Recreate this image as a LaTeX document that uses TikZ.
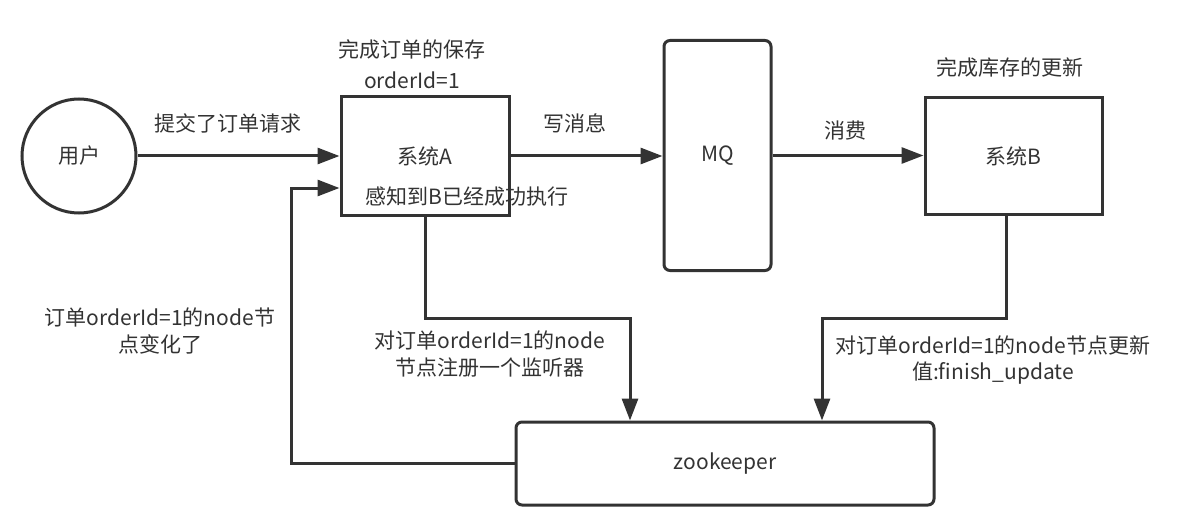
\documentclass[tikz,border=0pt]{standalone}
\usepackage{fontspec}
\setmainfont{Noto Sans CJK SC}
\usetikzlibrary{arrows.meta}
\definecolor{ln}{HTML}{333333}
\definecolor{tx}{HTML}{333333}
\begin{document}
\begin{tikzpicture}[x=1pt,y=-1pt,
  every node/.style={font=\fontsize{21}{26.5}\selectfont, text=tx},
  shp/.style={draw=ln, line width=3pt, inner sep=0pt, fill=white},
  lbl/.style={inner sep=0pt, align=center},
  conn/.style={draw=ln, line width=3pt, -{Triangle[length=22pt,width=16pt]}},
  plain/.style={draw=ln, line width=3pt}]
\useasboundingbox (0,0) rectangle (1178,524);
% nodes
\node[shp, circle, minimum size=114pt] (user) at (79,156) {用户};
\node[shp, minimum width=168pt, minimum height=118pt] (A) at (425,156) {系统A};
\node[shp, rounded corners=6pt, minimum width=107pt, minimum height=230pt] (MQ) at (717.5,155.5) {MQ};
\node[shp, minimum width=177pt, minimum height=117pt] (B) at (1013.5,156) {系统B};
\node[shp, rounded corners=6pt, minimum width=418pt, minimum height=83pt] (zk) at (725,463.5) {zookeeper};
% coordinates
\coordinate (j1) at (630,318);
\coordinate (bs) at (1006,214.5);
\coordinate (j2) at (822,318);
\coordinate (j3) at (291,188);
% connectors
\draw[conn] (user.east) -- (user.east -| A.west);
\draw[conn] (A.east) -- (A.east -| MQ.west);
\draw[conn] (MQ.east) -- (MQ.east -| B.west);
\draw[conn] (A.south) |- (j1) -- (j1 |- zk.north);
\draw[conn] (bs) |- (j2) -- (j2 |- zk.north);
\draw[conn] (zk.west) -| (j3) -- (j3 -| A.west);
% labels
\node[lbl] (l1) at (412,50) {完成订单的保存};
\node[lbl] (l2) at (412,80) {orderId=1};
\node[lbl] (l3) at (228,123) {提交了订单请求};
\node[lbl] (l4) at (575,123) {写消息};
\node[lbl] (l5) at (845,131) {消费};
\node[lbl] (l6) at (1010,68) {完成库存的更新};
\node[lbl] (l7) at (467,197) {感知到B已经成功执行};
\node[lbl] (l8) at (160,331) {订单orderId=1的node节\\点变化了};
\node[lbl] (l9) at (490,354) {对订单orderId=1的node\\节点注册一个监听器};
\node[lbl] (l10) at (993,360) {对订单orderId=1的node节点更新\\值:finish\_update};
\end{tikzpicture}
\end{document}
